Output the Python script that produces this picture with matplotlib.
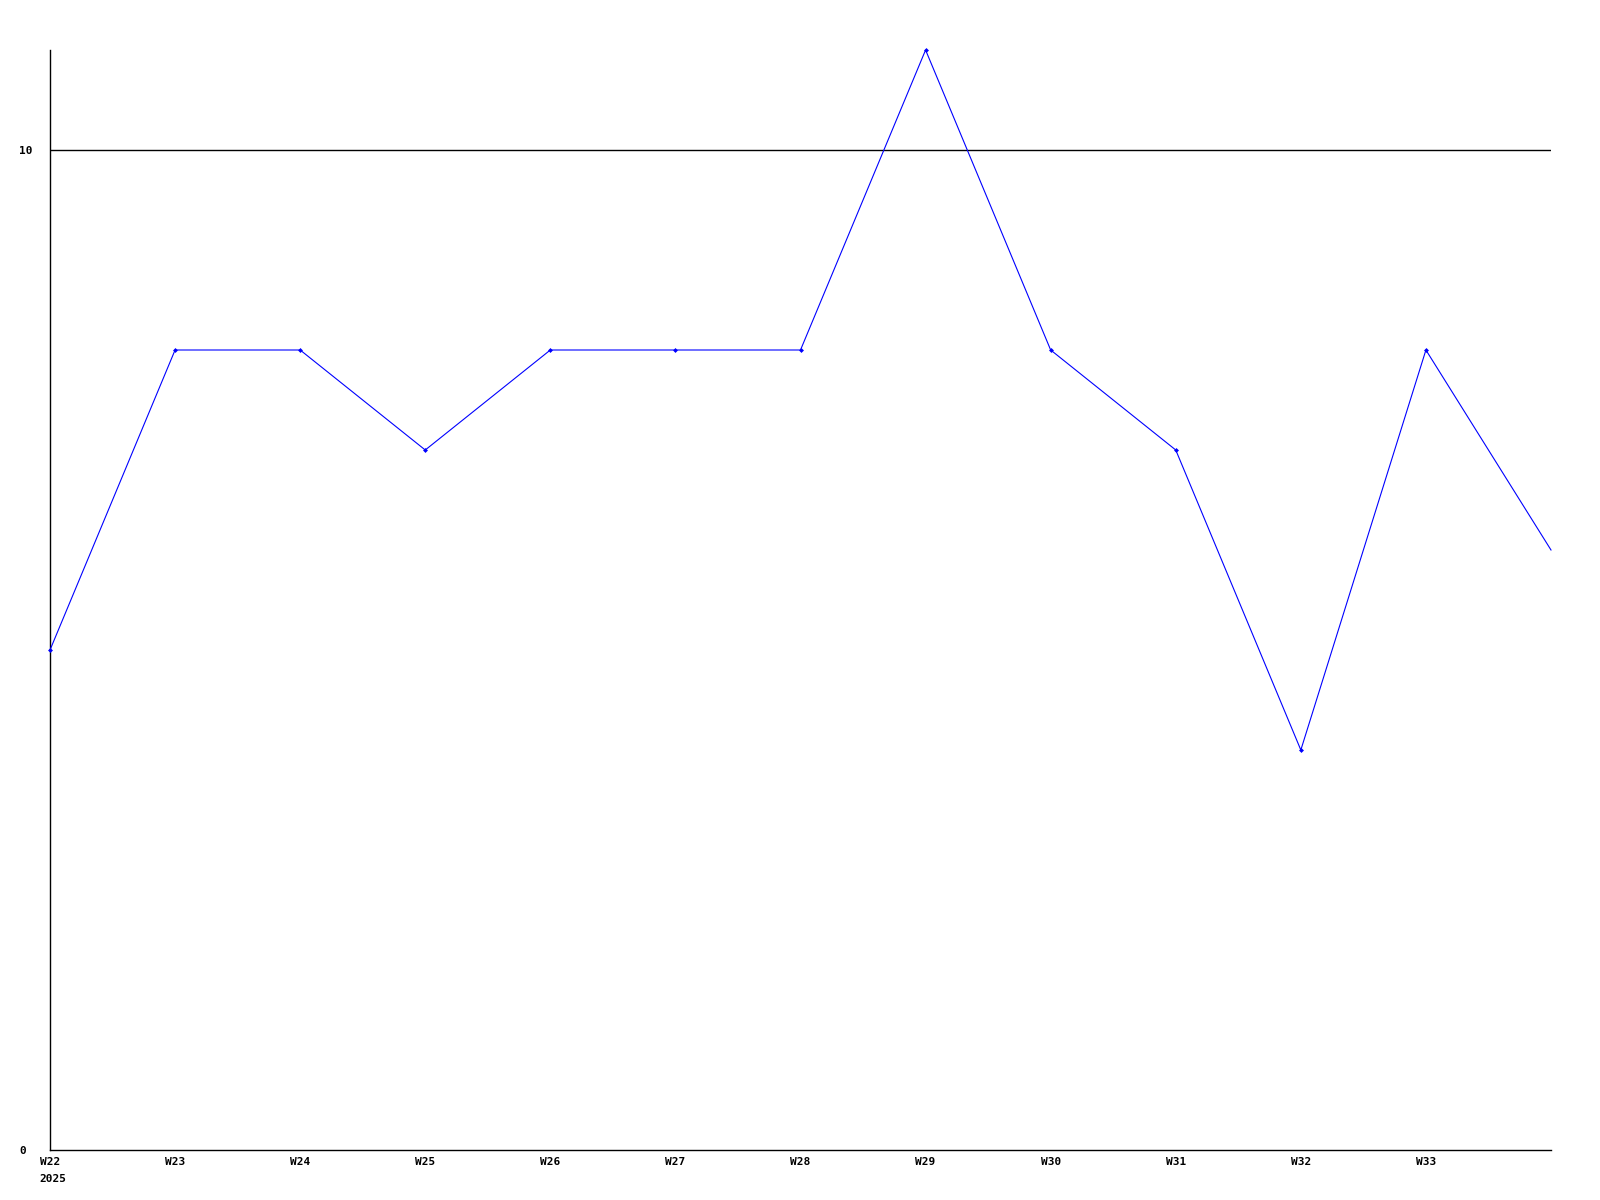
import matplotlib
matplotlib.use("Agg")
import matplotlib.pyplot as plt

weeks = ["W22", "W23", "W24", "W25", "W26", "W27", "W28", "W29", "W30", "W31", "W32", "W33", "W34"]
values = [5, 8, 8, 7, 8, 8, 8, 11, 8, 7, 4, 8, 6]
tick_labels = ["W22", "W23", "W24", "W25", "W26", "W27", "W28", "W29", "W30", "W31", "W32", "W33"]
year_label = "2025"
y_ticks = [0, 10]

fig = plt.figure(figsize=(16, 12), dpi=100)
ax = fig.add_axes([50/1600, 50/1200, 1501/1600, 1100/1200])
x = list(range(len(weeks)))
ax.plot(x, values, color="#0000ff", linewidth=0.8, marker="D", markersize=2.5,
        markeredgewidth=0, markevery=list(range(len(weeks) - 1)),
        clip_on=False, zorder=3)
ax.axhline(10, color="black", linewidth=1, zorder=2)
ax.set_xlim(0, len(weeks) - 1)
ax.set_ylim(0, 11)
for s in ["top", "right"]:
    ax.spines[s].set_visible(False)
for s in ["left", "bottom"]:
    ax.spines[s].set_linewidth(1)
    ax.spines[s].set_color("black")
font = dict(family="DejaVu Sans Mono", weight="bold", size=8)
ax.set_yticks(y_ticks)
ax.set_yticklabels([str(v) for v in y_ticks], fontdict=font, ha="left")
ax.set_xticks(range(len(tick_labels)))
ax.set_xticklabels(tick_labels, fontdict=font)
ax.tick_params(axis="both", length=0)
ax.tick_params(axis="y", pad=22)
ax.tick_params(axis="x", pad=5)
ax.text(-0.085, -0.0215, year_label, transform=ax.get_xaxis_transform(),
        ha="left", va="top", **font)
fig.savefig("out.png", dpi=100, facecolor="white")
